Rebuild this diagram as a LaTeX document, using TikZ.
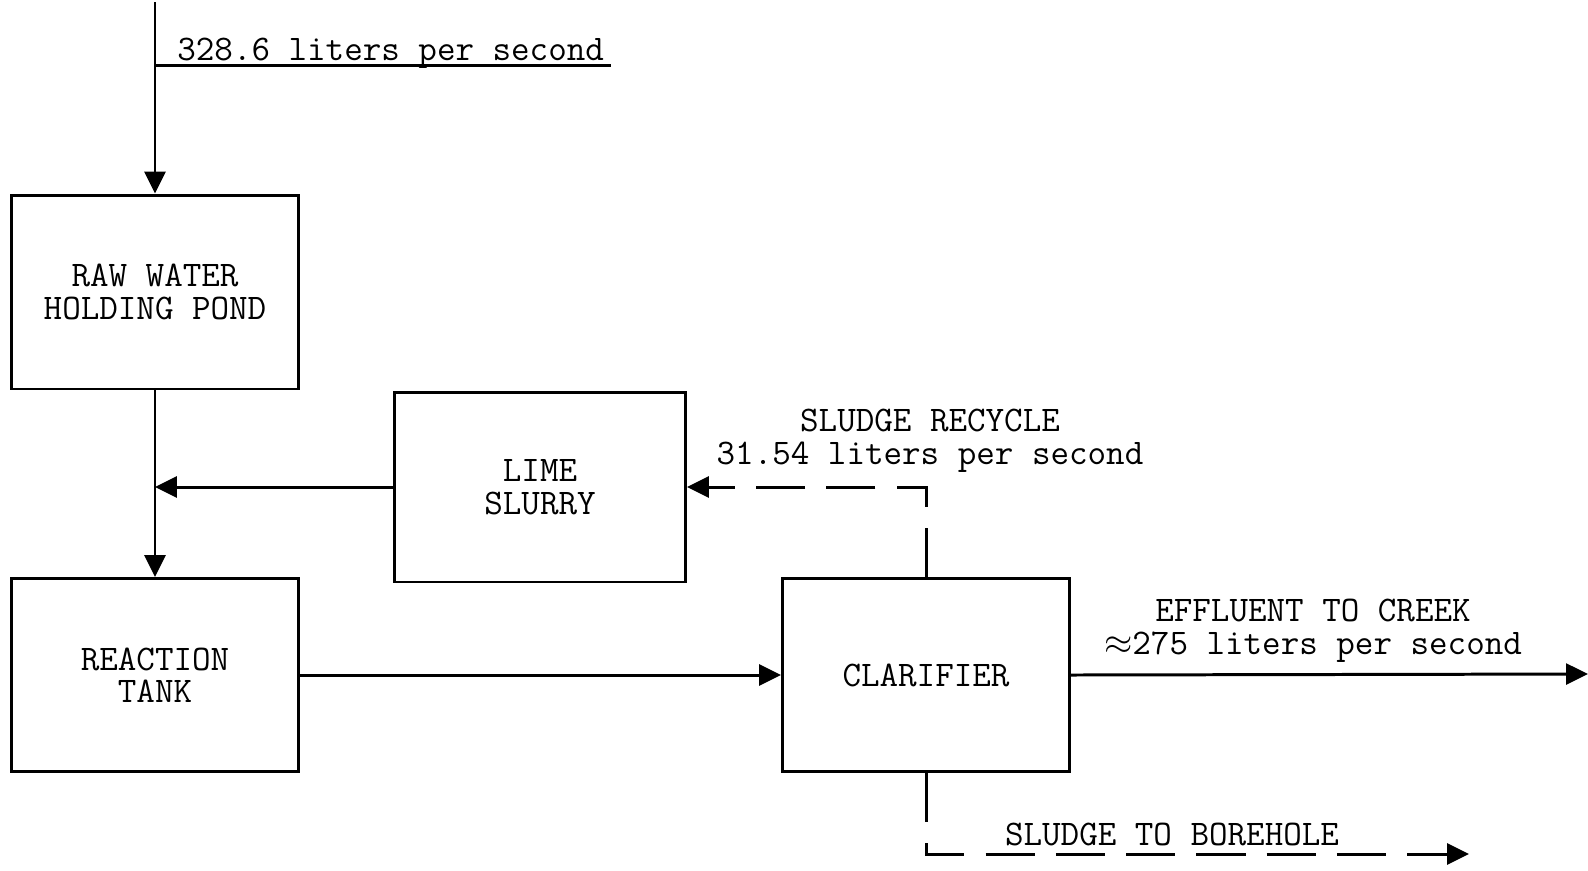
\documentclass[tikz,border=0pt]{standalone}
\usepackage{fontspec}
\usetikzlibrary{arrows.meta}
\newcommand{\texto}{\fontsize{20.5}{18.5}\selectfont\ttfamily}

\begin{document}
\begin{tikzpicture}[x=0.02cm, y=-0.02cm,
  caja/.style={rectangle, draw, line width=1.7pt, minimum width=5.76cm,
    minimum height=3.86cm, inner sep=0pt, align=center, font=\texto},
  linea/.style={line width=1.7pt},
  flecha/.style={-{Triangle[length=0.44cm, width=0.42cm]}, line width=1.7pt},
  flechaDisc/.style={flecha, dash pattern=on 28pt off 12pt},
  etiqueta/.style={align=center, font=\texto, inner sep=0pt}
]
\useasboundingbox (0,0) rectangle (1588,870);

\node[caja, minimum height=3.88cm] (raw) at (155,292) {RAW WATER\\HOLDING POND};
\node[caja, minimum width=5.82cm, minimum height=3.8cm] (lime) at (540,487) {LIME\\SLURRY};
\node[caja] (tank) at (155,675) {REACTION\\TANK};
\node[caja, minimum width=5.74cm] (clar) at (926,675) {CLARIFIER};

\coordinate (entrada) at (155,2);
\coordinate (salida) at (1588,674);
\coordinate (pozo) at (1469,854);

\node[etiqueta, anchor=base west] (caudal) at (177,60) {328.6 liters per second};
\node[etiqueta] (reciclo) at (930,441) {SLUDGE RECYCLE\\31.54 liters per second};
\node[etiqueta] (efluente) at (1313,631) {EFFLUENT TO CREEK\\$\approx$275 liters per second};
\node[etiqueta] (lodo) at (1172,834) {SLUDGE TO BOREHOLE};

\draw[flecha] (entrada) -- (raw.north);
\draw[linea] (155,65) -- (611,65);
\draw[flecha] (raw.south) -- (tank.north);
\draw[flecha] (lime.west) -- (lime.west -| raw.south);
\draw[flecha] (tank.east) -- (clar.west);
\draw[flechaDisc] (clar.north) |- (lime.east);
\draw[flecha] (clar.east) -- (salida);
\draw[flechaDisc] (clar.south) |- (pozo);
\end{tikzpicture}
\end{document}
